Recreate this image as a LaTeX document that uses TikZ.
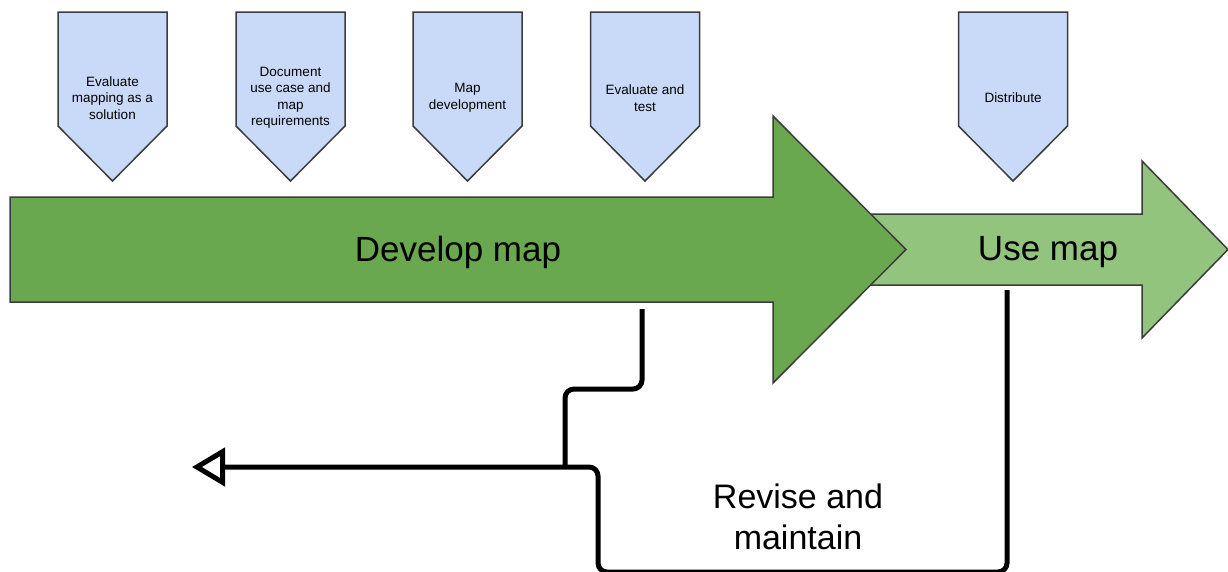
\documentclass[tikz,border=0pt]{standalone}
\usepackage{fontspec}
\setmainfont{Liberation Sans}
\usetikzlibrary{arrows.meta}
\definecolor{dkgreen}{HTML}{6AA84F}
\definecolor{ltgreen}{HTML}{93C47D}
\definecolor{paleblue}{HTML}{C9DAF8}
\definecolor{edgegray}{HTML}{3C3C3C}
\tikzset{
  shapeline/.style={draw=edgegray, line width=1.5pt, line join=miter},
  steptext/.style={font=\fontsize{13.5}{16.5}\selectfont, align=center, text=black, inner sep=0pt},
  bigtext/.style={font=\fontsize{35}{41}\selectfont, align=center, text=black, inner sep=0pt},
  feedback/.style={draw=black, line width=5pt, rounded corners=9pt},
}
\newcommand\mypent[3]{%
  \draw[shapeline, fill=paleblue] (#2-54.5,12) -- (#2+54.5,12) -- (#2+54.5,126) -- (#2,181) -- (#2-54.5,126) -- cycle;
  \node[steptext] (#1) at (#2,98) {#3};
}
\begin{document}
\begin{tikzpicture}[x=1pt, y=-1pt]
\useasboundingbox[fill=white] (0,0) rectangle (1228,571);
% step pentagons
\mypent{s1}{112.5}{Evaluate\\mapping as a\\solution}
\mypent{s2}{290.5}{Document\\use case and\\map\\requirements}
\mypent{s3}{467.5}{Map\\development}
\mypent{s4}{645}{Evaluate and\\test}
\mypent{s5}{1013}{Distribute}
% use map arrow (behind)
\draw[shapeline, fill=ltgreen] (850,214) -- (1142,214) -- (1142,161) -- (1228,249.5) -- (1142,338) -- (1142,285) -- (850,285) -- cycle;
% develop map arrow
\draw[shapeline, fill=dkgreen] (10,197) -- (773,197) -- (773,116) -- (906,249.5) -- (773,383) -- (773,302) -- (10,302) -- cycle;
\node[bigtext] (develop) at (458,252) {Develop map};
\node[bigtext] (use) at (1048,252) {Use map};
\node[font=\fontsize{34}{41}\selectfont, align=center, inner sep=0pt] (revise) at (798,517) {Revise and\\maintain};
% feedback connectors
\coordinate (fbA) at (642,309);
\coordinate (fbJoin) at (565,467);
\coordinate (fbB) at (1007,290);
\coordinate (fbEnd) at (192,467);
\draw[feedback] (fbA) -- (642,389) -- (565,389) -- (fbJoin);
\draw[feedback, -{Triangle[open, length=33pt, width=38pt]}] (fbB) -- (1007,572) -- (598,572) -- (598,467) -- (fbEnd);
\end{tikzpicture}
\end{document}
